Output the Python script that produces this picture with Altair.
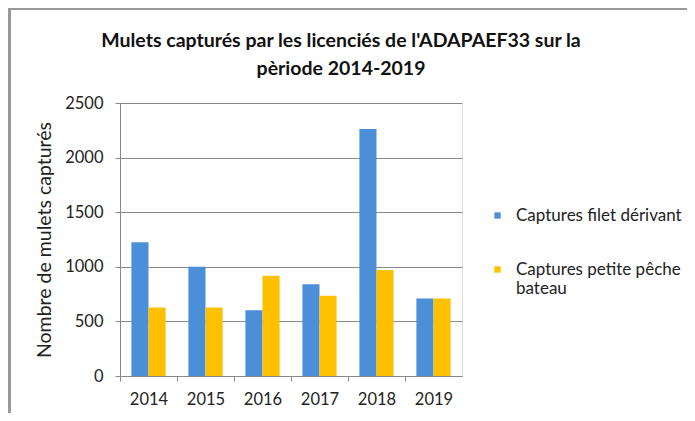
import altair as alt
import pandas as pd

years = ["2014", "2015", "2016", "2017", "2018", "2019"]
filet = [1224, 1000, 603, 841, 2261, 710]
petite = [627, 627, 918, 734, 970, 710]
series_names = ["Captures filet dérivant", "Captures petite pêche bateau"]
colors = ["#4A8FD8", "#FFC000"]

rows = []
for i, y in enumerate(years):
    rows.append({"year": y, "series": series_names[0], "value": filet[i]})
    rows.append({"year": y, "series": series_names[1], "value": petite[i]})
df = pd.DataFrame(rows)

FONT = "Lato"

bars = alt.Chart(df).mark_bar().encode(
    x=alt.X("year:N", title=None,
            scale=alt.Scale(paddingInner=0.4, paddingOuter=0.2),
            axis=alt.Axis(labelAngle=0, labelFontSize=16.5, labelPadding=10,
                          tickOffset=-28.5, labelOffset=28.5, tickSize=5, tickColor="#888",
                          domainColor="#888", labelColor="#222", labelFont=FONT)),
    xOffset=alt.XOffset("series:N", sort=series_names),
    y=alt.Y("value:Q", title="Nombre de mulets capturés",
            scale=alt.Scale(domain=[0, 2500]),
            axis=alt.Axis(values=[0, 500, 1000, 1500, 2000, 2500], format="d",
                          labelFontSize=16.5, labelPadding=12, tickSize=5,
                          tickColor="#888", domainColor="#888", gridColor="#888",
                          labelColor="#222", titleFontSize=19.5, titleFontWeight="normal",
                          titleColor="#222", titlePadding=10, titleFont=FONT, labelFont=FONT)),
    color=alt.Color("series:N", sort=series_names,
                    scale=alt.Scale(domain=series_names, range=colors),
                    legend=alt.Legend(title=None, orient="none", legendX=369, legendY=104,
                                      symbolType="square", symbolSize=40, symbolStrokeWidth=0,
                                      labelFontSize=17, labelFont=FONT, labelColor="#222",
                                      rowPadding=36, labelOffset=10, labelLimit=300,
                                      labelExpr="datum.label == 'Captures petite pêche bateau' ? ['Captures petite pêche', 'bateau'] : datum.label")),
)

frame = alt.Chart(df).mark_rect(fill=None, stroke="#999", strokeWidth=1.5).encode(
    x=alt.value(-110.5), x2=alt.value(700), y=alt.value(-94.5), y2=alt.value(400)
)

chart = alt.layer(frame, bars).properties(
    width=342, height=273,
    autosize=alt.AutoSizeParams(type="none"),
    padding={"left": 112, "top": 95, "right": 225, "bottom": 37},
    title=alt.TitleParams(
        ["Mulets capturés par les licenciés de l'ADAPAEF33 sur la", "pèriode 2014-2019"],
        fontSize=19.5, font=FONT, fontWeight="bold", color="#111",
        anchor="middle", dx=50, lineHeight=28, offset=-72),
).configure_view(stroke=None).configure(background="white")

chart.save("out.html", embed_options={"renderer": "svg", "actions": False})
